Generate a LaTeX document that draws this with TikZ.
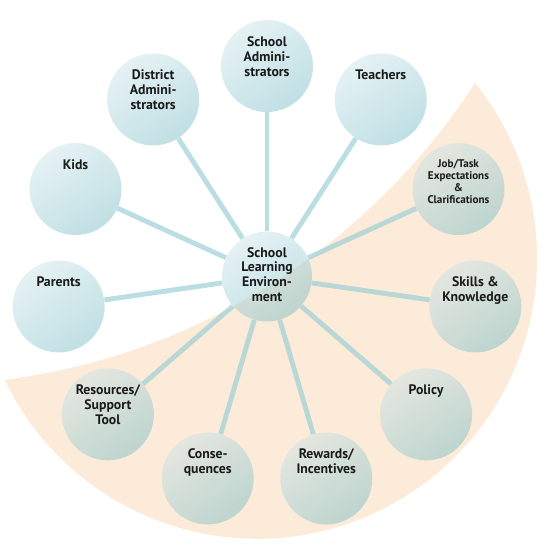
\documentclass[tikz,border=0pt]{standalone}
\usepackage{fontspec}
\setmainfont{PT Sans}
\usetikzlibrary{positioning}
\definecolor{peach}   {HTML}{FDEBD9}
\definecolor{bublight}{HTML}{C9E3E8}
\definecolor{bubdark} {HTML}{78BCC5}
\definecolor{spoke}   {HTML}{96CDD4}
\definecolor{ink}     {HTML}{1A1A1A}
\tikzset{
  bubble/.style={circle,minimum size=2.3cm,inner sep=0pt,
    left color=bublight,right color=bubdark,shading angle=35,fill opacity=0.47},
  hub/.style={bubble,minimum size=2.25cm},
  spokeline/.style={draw=spoke,line width=3.5pt,opacity=0.65},
  lbl/.style={font=\bfseries\fontsize{9.8}{10.6}\selectfont,text=ink,
    align=center,inner sep=0pt,anchor=north},
  smalllbl/.style={lbl,font=\bfseries\fontsize{7.9}{8.4}\selectfont},
}
\begin{document}
\begin{tikzpicture}
  \useasboundingbox (-6.675,-6.8875) rectangle (7.075,6.9125);
  % peach sector behind the lower right bubbles
  \fill[peach] (-6.575,-2.5875)
    arc[start angle=-82.66,end angle=-32.87,radius=16.535]
    arc[start angle=38.9,end angle=-154.44,radius=7.0] -- cycle;
  \node[hub] (env) at (0,0) {};
  \foreach \nm/\st/\txt [count=\i from 0] in {
      sadm/lbl/{School\\Admini-\\strators},
      teach/lbl/{Teachers},
      job/smalllbl/{Job/Task\\Expectations\\\&\\Clarifications},
      skill/lbl/{Skills \&\\Knowledge},
      policy/lbl/{Policy},
      reward/lbl/{Rewards/\\Incentives},
      conseq/lbl/{Conse-\\quences},
      res/lbl/{Resources/\\Support\\Tool},
      parent/lbl/{Parents},
      kids/lbl/{Kids},
      dadm/lbl/{District\\Admini-\\strators}}{
    \node[bubble] (\nm) at ({90-\i*360/11}:5.2625) {};
    \draw[spokeline] (env) -- (\nm);
    \node[\st] (\nm-t) at ([yshift=0.74cm]\nm.center) {\txt};
  }
  \node[lbl] (env-t) at ([yshift=0.74cm]env.center) {School\\Learning\\Environ-\\ment};
\end{tikzpicture}
\end{document}
